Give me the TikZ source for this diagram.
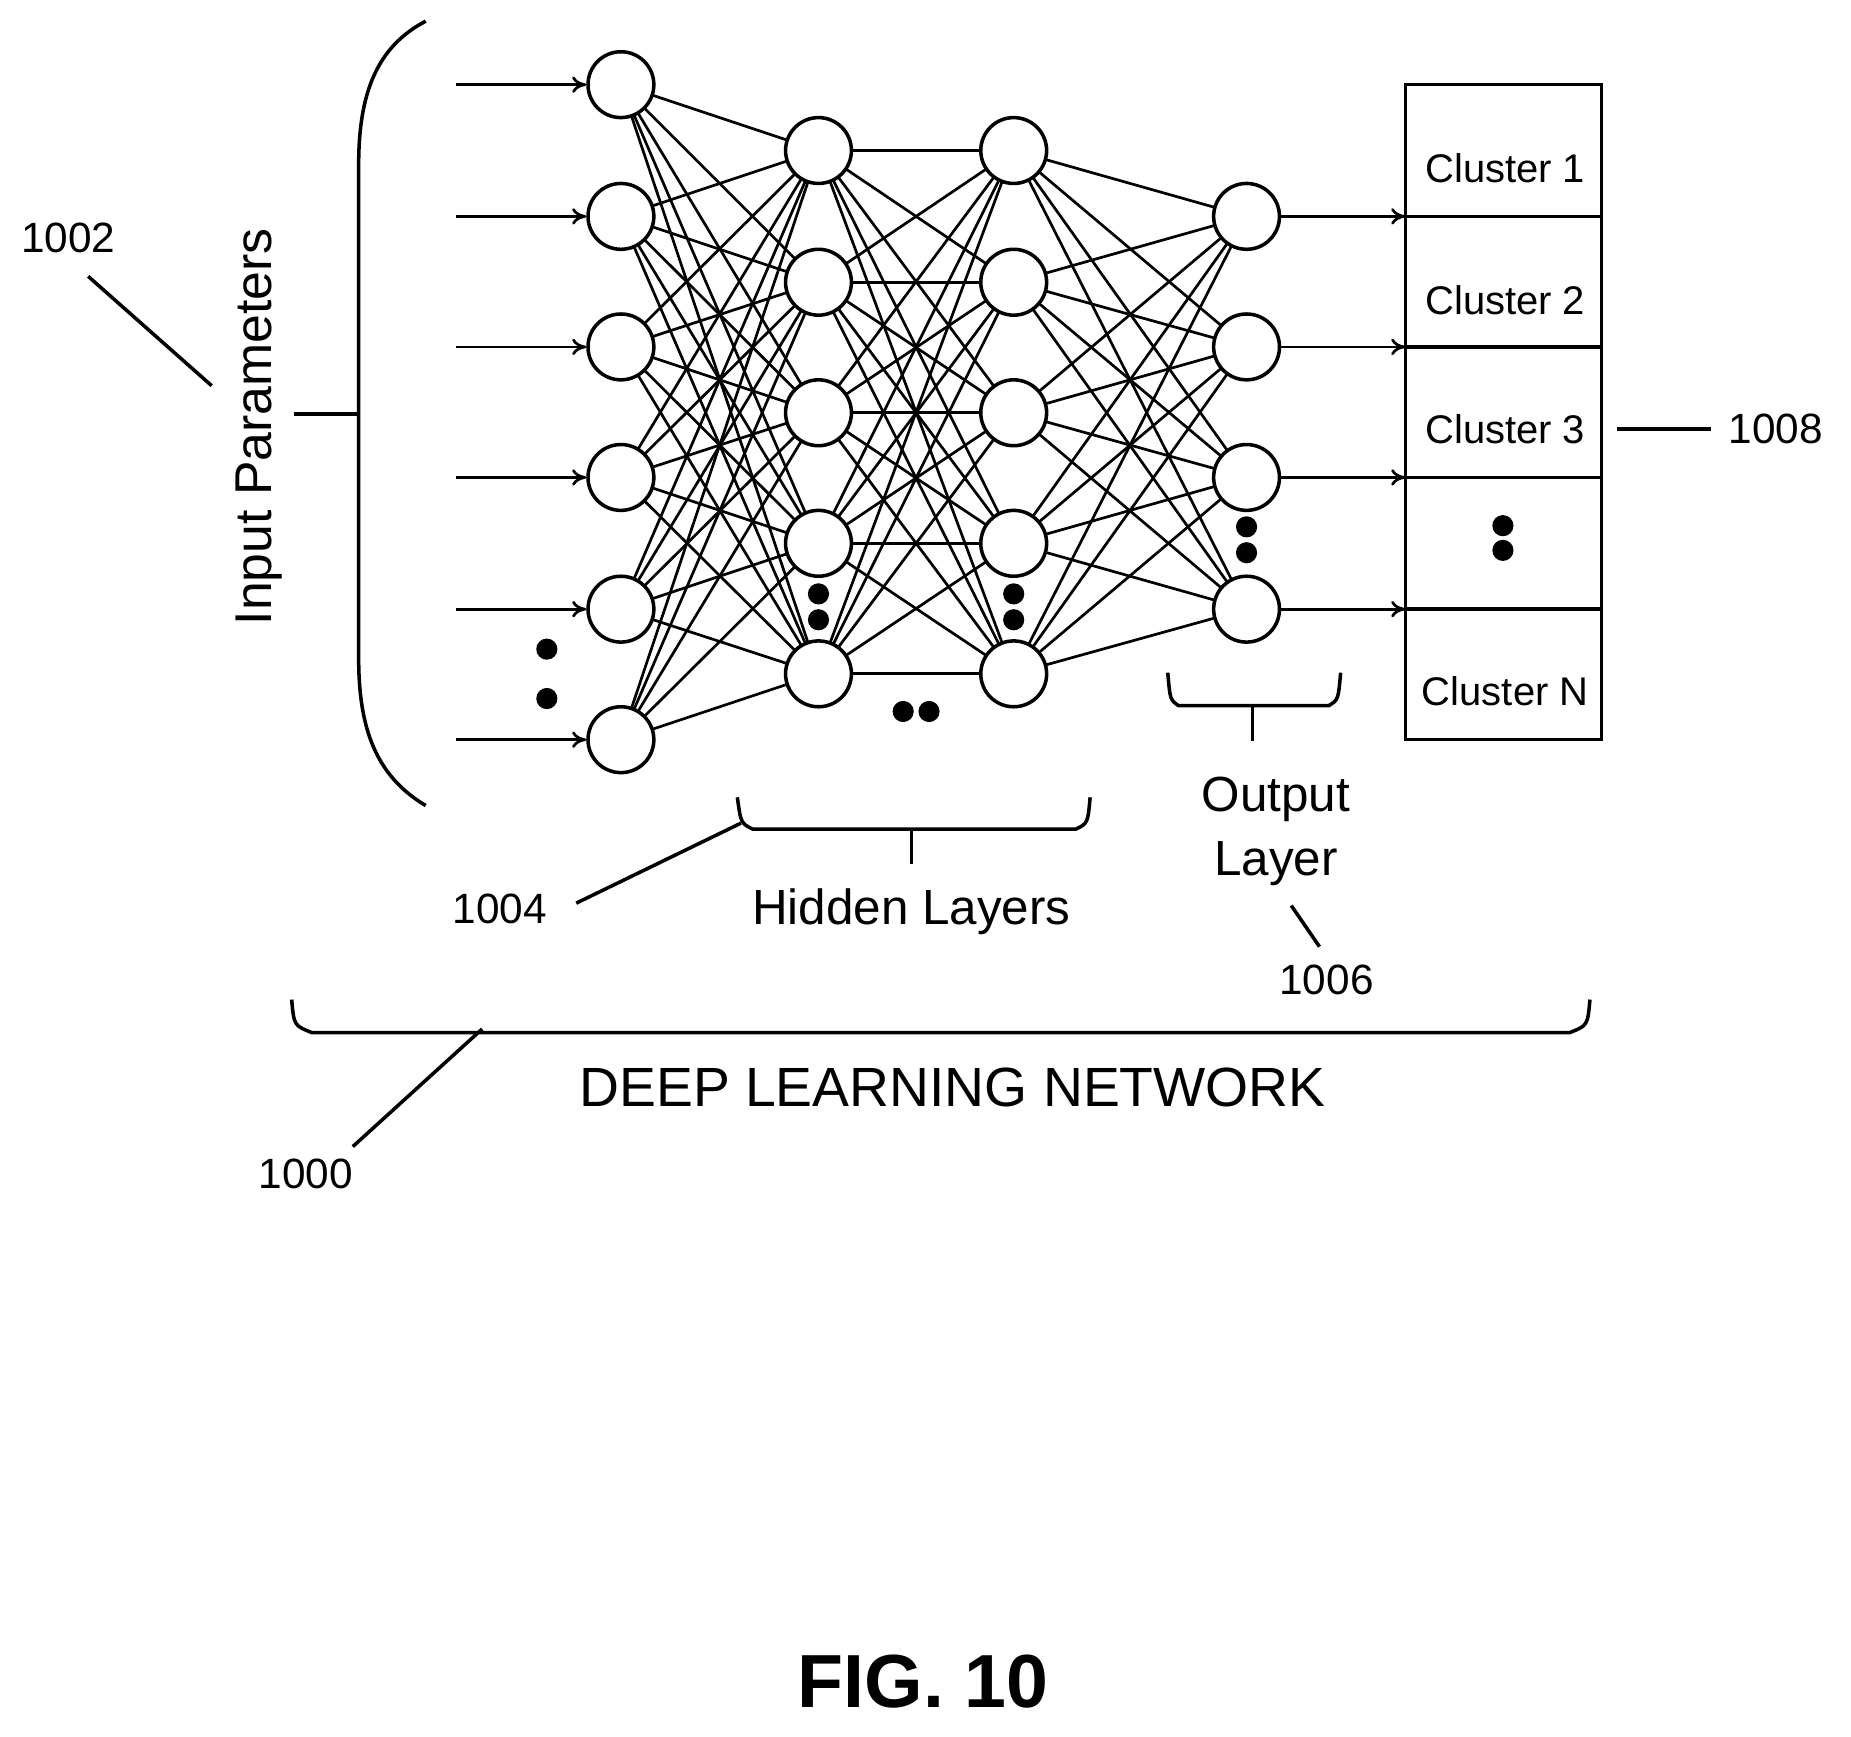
\documentclass[tikz,border=0pt]{standalone}
\usepackage{fontspec}
\setmainfont{Liberation Sans}
\usetikzlibrary{arrows.meta}
\begin{document}
\begin{tikzpicture}[x=1pt,y=-1pt,line width=3pt,
 neu/.style={circle,draw,fill=white,minimum size=56pt,inner sep=0pt,line width=3pt},
 dot/.style={circle,fill=black,minimum size=18pt,inner sep=0pt},
 lab/.style={font=\fontsize{34}{40}\selectfont,inner sep=0pt},
 wire/.style={line width=2.3pt},
 arr/.style={wire,-{To[length=12pt,width=14pt]}}]
\useasboundingbox (0,0) rectangle (1574,1477);
\foreach \i/\y in {1/72,2/184,3/295,4/406,5/518,6/629}{\coordinate (i\i) at (528,\y);}
\foreach \i/\y in {1/128,2/240,3/351,4/462,5/573}{\coordinate (a\i) at (696,\y);\coordinate (b\i) at (862,\y);}
\foreach \i/\y in {1/184,2/295,3/406,4/518}{\coordinate (o\i) at (1060,\y);}
\foreach \i in {1,...,6}{\foreach \j in {1,...,5}{\draw[wire] (i\i)--(a\j);}}
\foreach \i in {1,...,5}{\foreach \j in {1,...,5}{\draw[wire] (a\i)--(b\j);}}
\foreach \i in {1,...,5}{\foreach \j in {1,...,4}{\draw[wire] (b\i)--(o\j);}}
\foreach \i in {1,...,6}{\node[neu] (I\i) at (i\i) {};}
\foreach \i in {1,...,5}{\node[neu] (A\i) at (a\i) {};\node[neu] (B\i) at (b\i) {};}
\foreach \i in {1,...,4}{\node[neu] (O\i) at (o\i) {};}
\foreach \i/\y in {1/72,2/184,3/295,4/406,5/518,6/629}{\coordinate (s\i) at (388,\y); \draw[arr] (s\i)--(I\i);}
\node[dot] (d1) at (465,552){};\node[dot] (d2) at (465,594){};
\node[dot] (d3) at (696,505){};\node[dot] (d4) at (696,527){};
\node[dot] (d5) at (862,505){};\node[dot] (d6) at (862,527){};
\node[dot] (d7) at (768,605){};\node[dot] (d8) at (790,605){};
\node[dot] (d9) at (1060,448){};\node[dot] (d10) at (1060,470){};
\draw (1195,72) rectangle (1362,629);
\foreach \y in {184,295,406,518}{\draw (1195,\y)--(1362,\y);}
\foreach \i/\y in {1/184,2/295,3/406,4/518}{\coordinate (c\i) at (1195,\y);\draw[arr] (O\i)--(c\i);}
\node[lab] (k1) at (1280,143){Cluster 1};
\node[lab] (k2) at (1280,255){Cluster 2};
\node[lab] (k3) at (1280,365){Cluster 3};
\node[dot] (d11) at (1278,447){};\node[dot] (d12) at (1278,468){};
\node[lab] (kn) at (1280,588){Cluster N};
\node[lab,font=\fontsize{36}{40}\selectfont] (n1008) at (1510,365){1008};
\draw (1375,365)--(1455,365);
\draw (362,18) .. controls (320,40) and (305,80) .. (305,140) -- (305,560) .. controls (305,620) and (320,660) .. (362,685);
\draw (250,352)--(305,352);
\node[lab,rotate=90,font=\fontsize{44}{50}\selectfont] (ip) at (220,363){Input Parameters};
\node[lab,font=\fontsize{36}{40}\selectfont] (n1002) at (58,202){1002};
\draw (75,235)--(180,328);
\draw (627,678) .. controls (630,700) .. (640,705) -- (915,705) .. controls (925,700) .. (927,678);
\draw (775,705)--(775,735);
\node[lab,font=\fontsize{42}{46}\selectfont] (hl) at (775,775){Hidden Layers};
\node[lab,font=\fontsize{36}{40}\selectfont] (n1004) at (425,773){1004};
\draw (490,768)--(630,700);
\draw (993,572) .. controls (995,595) .. (1002,600) -- (1130,600) .. controls (1138,595) .. (1140,572);
\draw (1065,600)--(1065,630);
\node[lab,font=\fontsize{42}{54}\selectfont,align=center] (ol) at (1085,707){Output\\Layer};
\draw (1098,770)--(1122,805);
\node[lab,font=\fontsize{36}{40}\selectfont] (n1006) at (1128,833){1006};
\draw (248,850) .. controls (250,872) .. (265,878) -- (1335,878) .. controls (1350,872) .. (1352,850);
\draw (410,875)--(300,975);
\node[lab,font=\fontsize{36}{40}\selectfont] (n1000) at (260,998){1000};
\node[lab,font=\fontsize{47}{52}\selectfont] (dln) at (810,925){DEEP LEARNING NETWORK};
\node[lab,font=\fontsize{64}{70}\selectfont\bfseries] (fig) at (785,1430){FIG. 10};
\end{tikzpicture}
\end{document}
